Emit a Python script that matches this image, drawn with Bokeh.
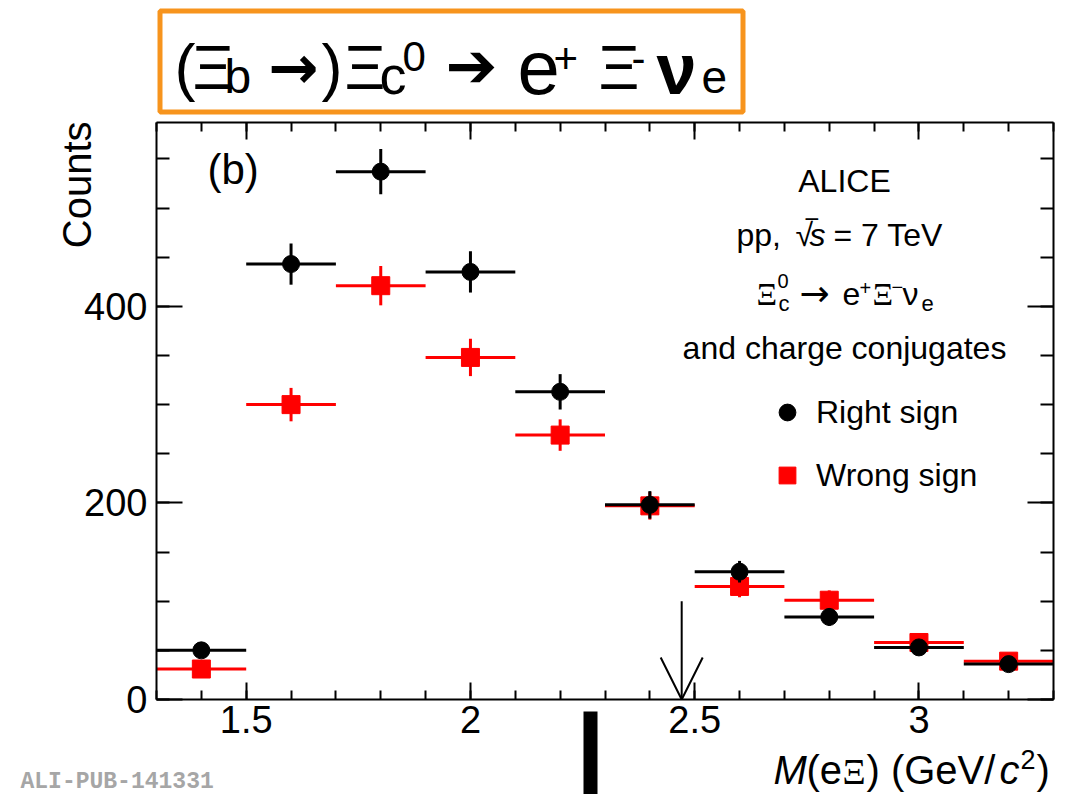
from bokeh.plotting import figure
from bokeh.models import (Label, BoxAnnotation, Arrow, OpenHead, FixedTicker, LinearAxis,
                          Range1d, CustomJSTickFormatter, Legend, LegendItem, ColumnDataSource)
from bokeh.embed import file_html
from bokeh.resources import INLINE

# ---------------- data ----------------
bin_centers = [1.4, 1.6, 1.8, 2.0, 2.2, 2.4, 2.6, 2.8, 3.0, 3.2]
bin_half_width = [0.1] * 10
right_sign = [50, 443, 537, 435, 313, 198, 130, 84, 53, 36]
right_sign_err = [7, 21, 23, 21, 18, 14, 11, 9, 7, 6]
wrong_sign = [31, 300, 421, 348, 269, 197, 115, 101, 58, 39]
wrong_sign_err = [6, 17, 20, 19, 16, 14, 11, 10, 8, 6]

x_major_ticks = [1.5, 2.0, 2.5, 3.0]
x_tick_labels = ["1.5", "2", "2.5", "3"]
x_minor_ticks = [1.3, 1.4, 1.5, 1.6, 1.7, 1.8, 1.9, 2.0, 2.1, 2.2, 2.3, 2.4, 2.5,
                 2.6, 2.7, 2.8, 2.9, 3.0, 3.1, 3.2, 3.3]
y_major_ticks = [0, 200, 400]
y_tick_labels = ["0", "200", "400"]
y_minor_ticks = [0, 50, 100, 150, 200, 250, 300, 350, 400, 450, 500, 550]

x_axis_range = (1.3, 3.3)
y_axis_range = (0, 587)
xi_c0_mass = 2.471          # arrow position (GeV/c^2)
arrow_top = 100

# ---------------- layout ----------------
W, H = 1085, 794
FL, FT, FR, FB = 156, 122, 1053, 699      # drawn axes box in canvas pixels
ux = (x_axis_range[1] - x_axis_range[0]) / (FR - FL)
uy = (y_axis_range[1] - y_axis_range[0]) / (FB - FT)
view_x = (x_axis_range[0] - FL * ux, x_axis_range[1] + (W - FR) * ux)
view_y = (y_axis_range[0] - (H - FB) * uy, y_axis_range[1] + FT * uy)


def sx(px):
    return view_x[0] + px * ux


def sy(py):
    return view_y[1] - py * uy


p = figure(width=W, height=H, min_border=0,
           x_range=Range1d(*view_x), y_range=Range1d(*view_y),
           x_axis_location=None, y_axis_location=None,
           output_backend="svg", toolbar_location=None, tools="")
p.xgrid.grid_line_color = None
p.ygrid.grid_line_color = None
p.outline_line_color = None
p.background_fill_color = "white"
p.border_fill_color = "white"

FONT = "Liberation Sans"

xt = FixedTicker(ticks=x_major_ticks, minor_ticks=x_minor_ticks)
yt = FixedTicker(ticks=y_major_ticks, minor_ticks=y_minor_ticks)


def make_axis(place, ticker, loc, bounds, major_in, minor_in, labels, standoff):
    ax = LinearAxis(ticker=ticker, fixed_location=loc, bounds=bounds)
    ax.axis_line_width = 2
    ax.axis_line_color = "black"
    ax.major_tick_in = major_in
    ax.major_tick_out = 0
    ax.minor_tick_in = minor_in
    ax.minor_tick_out = 0
    ax.major_tick_line_width = 2
    ax.minor_tick_line_width = 2
    ax.major_label_text_font = FONT
    ax.major_label_text_font_size = "38px"
    ax.major_label_text_color = "black"
    ax.major_label_standoff = standoff
    if labels is None:
        ax.formatter = CustomJSTickFormatter(code="return ''")
    else:
        ax.major_label_overrides = labels
    p.add_layout(ax, place)
    return ax


make_axis("below", xt, y_axis_range[0], x_axis_range, 17, 9,
          {t: l for t, l in zip(x_major_ticks, x_tick_labels)}, 6)
make_axis("above", xt, y_axis_range[1], x_axis_range, 17, 9, None, 0)
make_axis("left", yt, x_axis_range[0], y_axis_range, 26, 13,
          {t: l for t, l in zip(y_major_ticks, y_tick_labels)}, 9)
make_axis("right", yt, x_axis_range[1], y_axis_range, 26, 13, None, 0)


# ---------------- data marks ----------------
def series_source(vals, errs):
    return ColumnDataSource(dict(
        x=bin_centers, y=vals,
        x0=[c - h for c, h in zip(bin_centers, bin_half_width)],
        x1=[c + h for c, h in zip(bin_centers, bin_half_width)],
        y0=[v - e for v, e in zip(vals, errs)],
        y1=[v + e for v, e in zip(vals, errs)],
    ))


ws = series_source(wrong_sign, wrong_sign_err)
rs = series_source(right_sign, right_sign_err)

RED = "#FF0000"
p.segment("x0", "y", "x1", "y", source=ws, line_color=RED, line_width=3)
p.segment("x", "y0", "x", "y1", source=ws, line_color=RED, line_width=3)
red_r = p.scatter("x", "y", source=ws, marker="square", size=18,
                  fill_color=RED, line_color=RED)
p.segment("x0", "y", "x1", "y", source=rs, line_color="black", line_width=3)
p.segment("x", "y0", "x", "y1", source=rs, line_color="black", line_width=3)
black_r = p.scatter("x", "y", source=rs, marker="circle", size=17,
                    fill_color="black", line_color="black")

# arrow at the Xi_c0 mass
p.add_layout(Arrow(end=OpenHead(size=42, line_width=2, line_color="black"),
                   x_start=xi_c0_mass, y_start=arrow_top,
                   x_end=xi_c0_mass, y_end=0, line_width=2, line_color="black"))

# legend (location is measured from the bottom-left of the canvas)
legend = Legend(items=[LegendItem(label="Right sign", renderers=[black_r]),
                       LegendItem(label="Wrong sign", renderers=[red_r])],
                location=(766, 298), glyph_width=42, glyph_height=42,
                spacing=21, label_standoff=8, padding=0, margin=0,
                border_line_color=None, background_fill_alpha=0,
                label_text_font=FONT, label_text_font_size="32px",
                label_text_color="black")
p.add_layout(legend)

BASE_SHIFT = 0.33   # empirical offset of the label anchor (fraction of font size)


# ---------------- text ----------------
def txt(text, px, py, size, font=FONT, style="normal", align="left",
        color="black", angle=0):
    if angle == 0:
        py = py - BASE_SHIFT * size
    else:
        px = px - BASE_SHIFT * size
    p.add_layout(Label(x=sx(px), y=sy(py), text=text, text_font=font,
                       text_font_size=f"{size}px", text_font_style=style,
                       text_align=align, text_baseline="alphabetic",
                       text_color=color, angle=angle, angle_units="deg"))


# title box
p.add_layout(BoxAnnotation(left=sx(159.5), right=sx(742.5), top=sy(10.5), bottom=sy(111.5),
                           fill_alpha=0, line_color="#F7941D", line_alpha=1, line_width=5))
txt("(", 174, 87, 63)
txt("Ξ", 192, 87, 63)
txt("b", 224, 92, 48)
txt("→", 268, 86, 60, font="DejaVu Sans", style="bold")
txt(")", 321, 87, 63)
txt("Ξ", 344, 87, 63)
txt("c", 379, 92, 54)
txt("0", 402, 70, 42)
txt("➔", 445, 85, 62, font="DejaVu Sans")
txt("e", 517, 92, 76)
txt("+", 553, 72, 42)
txt("Ξ", 598, 87, 63)
txt("-", 631, 72, 42)
txt("ν", 656, 92, 72, style="bold")
txt("e", 701, 92, 46)

# panel label
txt("(b)", 207, 183, 42)

# right-hand text
txt("ALICE", 844, 191, 32, align="center")
txt("pp,", 736, 245, 32)
txt("√", 795, 245, 32)
txt("s", 809, 245, 32, style="italic")
txt("= 7 TeV", 833, 245, 32)
txt("‾", 806, 242, 32)
txt("Ξ", 756, 304, 32, font="Liberation Serif")
txt("0", 777, 287, 20)
txt("c", 778, 310, 22)
txt("→", 799, 305, 36, font="DejaVu Sans")
txt("e", 842, 304, 32)
txt("+", 859, 294, 20)
txt("Ξ", 872, 304, 32, font="Liberation Serif")
txt("−", 891, 293, 20)
txt("ν", 902, 304, 32)
txt("e", 921, 310, 22)
txt("and charge conjugates", 844, 358, 32, align="center")

# axis titles
txt("Counts", 90, 121, 40, angle=90, align="right")
txt("M", 773, 783, 40, style="italic")
txt("(e", 806, 783, 40)
txt("Ξ", 842, 783, 36, font="Liberation Serif")
txt(") (GeV/", 866, 783, 40)
txt("c", 999, 783, 40, style="italic")
txt("2", 1020, 768, 27)
txt(")", 1036, 783, 40)

# footer
txt("ALI-PUB-141331", 20, 789, 23, font="Liberation Mono", style="bold", color="#A6A6A6")
p.add_layout(BoxAnnotation(left=sx(583), right=sx(597), top=sy(711), bottom=sy(794),
                           fill_color="black", fill_alpha=1, line_alpha=0))

open("out.html", "w").write(file_html(p, INLINE))
